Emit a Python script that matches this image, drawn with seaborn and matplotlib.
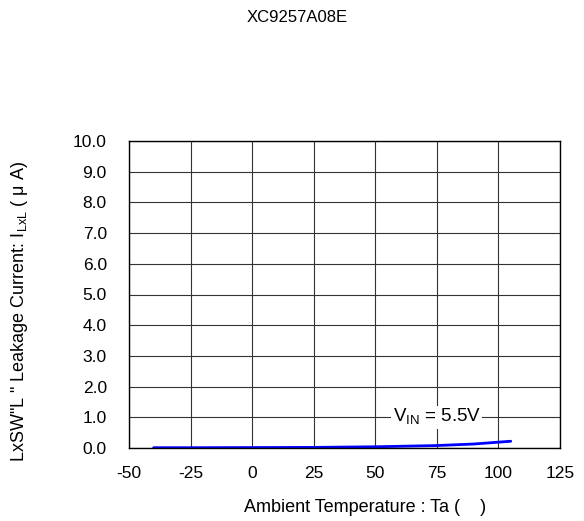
import numpy as np
import pandas as pd
import matplotlib
matplotlib.use("Agg")
import matplotlib.pyplot as plt
import seaborn as sns

sns.set_style("white")
plt.rcParams["font.family"] = ["Liberation Sans", "DejaVu Sans"]
plt.rcParams["axes.unicode_minus"] = False
plt.rcParams["text.color"] = "black"
plt.rcParams["xtick.color"] = "black"
plt.rcParams["ytick.color"] = "black"

temp = [-40, -25, 0, 25, 50, 75, 90, 105]
leak = [0.01, 0.01, 0.015, 0.02, 0.04, 0.08, 0.13, 0.22]

df = pd.DataFrame({"Ta": temp, "I": leak})

fig = plt.figure(figsize=(5.84, 5.21), dpi=100)
ax = fig.add_axes([129 / 584, 1 - 448 / 521, 431 / 584, 307 / 521])

sns.lineplot(data=df, x="Ta", y="I", ax=ax, color="#0000ff", linewidth=2)

ax.set_xlim(-50, 125)
ax.set_ylim(0, 10)
ax.set_xticks(np.arange(-50, 126, 25))
ax.set_yticks(np.arange(0, 10.1, 1))
ax.set_yticklabels([f"{v:.1f}" for v in np.arange(0, 10.1, 1)])
ax.grid(True, color="#333333", linewidth=0.8)
for s in ax.spines.values():
    s.set_color("black")
    s.set_linewidth(1.0)
ax.tick_params(axis="y", labelsize=12.5, length=0, pad=16, labelcolor="black")
ax.tick_params(axis="x", labelsize=12.5, length=0, pad=13, labelcolor="black")
ax.set_xlabel("")
ax.set_ylabel("")

fig.text(365 / 584, 1 - 508 / 521, "Ambient Temperature : Ta (    )",
         ha="center", va="center", fontsize=13, color="black")
fig.text(19.5 / 584, 1 - 311 / 521,
         "LxSW\"L \" Leakage Current: I$_{\\mathregular{LxL}}$ ( μ A)",
         ha="center", va="center", rotation=90, fontsize=13, color="black")
fig.text(297 / 584, 1 - 17 / 521, "XC9257A08E", ha="center", va="center",
         fontsize=12, color="black")

ax.text(75, 1.0, "V$_{\\mathregular{IN}}$ = 5.5V", ha="center", va="center",
        fontsize=13.5, color="black", bbox=dict(fc="white", ec="none", pad=1))

fig.savefig("out.png", dpi=100)
